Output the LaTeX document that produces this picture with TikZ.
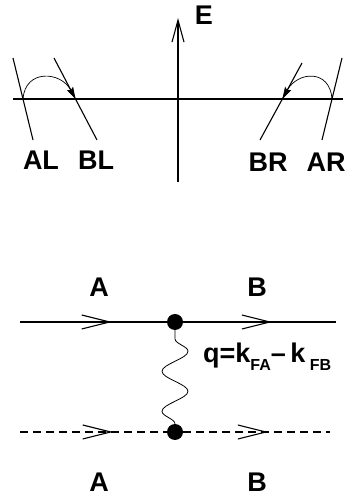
\documentclass[tikz,border=0pt]{standalone}
\usepackage{fontspec}
\setmainfont{Liberation Sans}
\usetikzlibrary{arrows.meta,positioning,calc,decorations.pathmorphing,decorations.markings}
\newcommand{\lowsub}[1]{\raisebox{-8pt}{\fontsize{16}{18}\selectfont #1}}

\begin{document}
\begin{tikzpicture}[
        x=1pt, y=1pt,
        lbl/.style={font=\fontsize{27}{31}\selectfont\bfseries, inner sep=0pt},
        ln/.style={line width=1.1pt},
        axarr/.style={ln, -{Straight Barb[length=22pt, width=12pt]}},
        hop/.style={line width=0.7pt, -{Stealth[length=12pt, width=7pt, inset=2pt]}},
        dot/.style={circle, fill=black, inner sep=0pt, minimum size=16pt},
        dashln/.style={ln, dash pattern=on 8pt off 5pt},
        barbat/.style={postaction={decorate}, decoration={markings,
            mark=at position #1 with {\arrow{Straight Barb[length=28pt, width=14pt]}}}},
        wave/.style={line width=0.8pt, decorate,
            decoration={snake, segment length=40pt, amplitude=13pt}}
    ]
    \useasboundingbox (0,0) rectangle (352,497);

    % upper part: energy axis and the four branches
    \coordinate (kl) at (13,398);
    \coordinate (kr) at (343,398);
    \coordinate (Eb) at (178,315);
    \coordinate (Et) at (178,479);
    \draw[ln] (kl) -- (kr);
    \draw[axarr] (Eb) -- (Et);
    \node[lbl] (Etxt) at (204,482) {E};

    \coordinate (ALt) at (13,439);  \coordinate (ALb) at (33,357);
    \coordinate (BLt) at (54,439);  \coordinate (BLb) at (97,357);
    \coordinate (BRt) at (302,434); \coordinate (BRb) at (260,357);
    \coordinate (ARt) at (342,439); \coordinate (ARb) at (322,357);
    \draw[ln] (ALt) -- (ALb);
    \draw[ln] (BLt) -- (BLb);
    \draw[ln] (BRt) -- (BRb);
    \draw[ln] (ARt) -- (ARb);

    \coordinate (xAL) at ($(ALt)!0.5!(ALb)$);
    \coordinate (xBL) at ($(BLt)!0.5!(BLb)$);
    \coordinate (xAR) at ($(ARt)!0.5!(ARb)$);
    \coordinate (xBR) at (282.4,398);
    \draw[hop] (xAL) .. controls (25,428) and (60.8,426) .. (xBL);
    \draw[hop] (xAR) .. controls (330,428) and (297.7,426) .. (xBR);

    \node[lbl] (AL) at (41,337) {AL};
    \node[lbl] (BL) at (96,337) {BL};
    \node[lbl] (BR) at (268,335) {BR};
    \node[lbl] (AR) at (326,335) {AR};

    % lower part: exchange between the two lines
    \node[dot] (v1) at (175,175) {};
    \node[dot] (v2) at (175,65) {};
    \coordinate (inA) at (20,175);  \coordinate (outB) at (336,175);
    \coordinate (inA2) at (20,65);  \coordinate (outB2) at (330,65);
    \draw[ln, barbat=92pt] (inA) -- (v1);
    \draw[ln, barbat=89pt] (v1) -- (outB);
    \draw[dashln, barbat=93pt] (inA2) -- (v2);
    \draw[dashln, barbat=85pt] (v2) -- (outB2);
    \draw[wave] (v2) -- (v1);

    \node[lbl] (Atop) at (99,210) {A};
    \node[lbl] (Btop) at (257,210) {B};
    \node[lbl] (Abot) at (99,15) {A};
    \node[lbl] (Bbot) at (257,15) {B};
    \node[lbl, anchor=base west] (qlab) at (203,134) {q=k\lowsub{FA}–\,k\,\lowsub{FB}};
\end{tikzpicture}
\end{document}
